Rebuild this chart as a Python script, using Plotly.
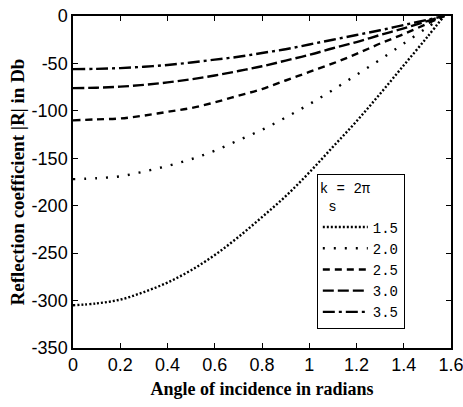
import plotly.graph_objects as go

angles = [0, 0.1, 0.2, 0.3, 0.4, 0.5, 0.6, 0.7, 0.8, 0.9, 1.0, 1.1, 1.2, 1.3, 1.4, 1.5, 1.5708]
s_labels = ["1.5", "2.0", "2.5", "3.0", "3.5"]
r_s15 = [-305, -303, -299, -291, -281, -268, -252, -233, -212, -190, -165, -138, -111, -82, -52, -22, 0]
r_s20 = [-172, -171, -169, -164, -158, -151, -142, -131, -120, -107, -93, -78, -62, -46, -29, -12, 0]
r_s25 = [-110, -109, -108, -105, -101, -97, -91, -84, -77, -68, -59, -50, -40, -29, -19, -8, 0]
r_s30 = [-76, -75.6, -74.5, -72.6, -70, -66.7, -62.7, -58, -53, -47, -41, -34, -27.5, -20, -13, -5.3, 0]
r_s35 = [-56, -55.7, -54.9, -53.5, -51.6, -49, -46, -43, -39, -35, -30, -25, -20, -15, -9.5, -4, 0]
x_ticks = [0, 0.2, 0.4, 0.6, 0.8, 1, 1.2, 1.4, 1.6]
y_ticks = [0, -50, -100, -150, -200, -250, -300, -350]

series = [r_s15, r_s20, r_s25, r_s30, r_s35]
dashes = ["2px,2px", "2px,9px", "7px,5px", "11px,4px", "12px,4px,3px,4px"]

fig = go.Figure()
for lab, ys, d in zip(s_labels, series, dashes):
    fig.add_trace(go.Scatter(x=angles, y=ys, mode="lines", name=lab,
                             line=dict(color="black", width=2.4, dash=d, shape="spline")))

tick_font = dict(family="Liberation Sans Narrow, Liberation Sans", size=18, color="black")
fig.update_layout(
    width=463, height=407,
    margin=dict(l=73, r=12, t=16, b=59),
    paper_bgcolor="white", plot_bgcolor="white",
    showlegend=True,
    legend=dict(x=0.645, y=0.524, xanchor="left", yanchor="top",
                bordercolor="black", borderwidth=1, bgcolor="white",
                font=dict(family="Liberation Mono", size=14, color="black"),
                title=dict(text="k = 2π<br> s", font=dict(family="Liberation Mono", size=14, color="black")),
                tracegroupgap=0, itemwidth=45),
    xaxis=dict(range=[0, 1.6], tickvals=x_ticks, ticktext=[str(v) for v in x_ticks],
               showgrid=False, zeroline=False, showline=True, linecolor="black", linewidth=1.5,
               mirror="ticks", ticks="inside", ticklen=5, tickcolor="black", automargin=False,
               ticklabeloverflow="allow",
               tickfont=tick_font,
               title=dict(text="<b>Angle of incidence in radians</b>",
                          font=dict(family="Liberation Serif", size=18, color="black"), standoff=8)),
    yaxis=dict(range=[-350, 0], tickvals=y_ticks, ticktext=[str(v) for v in y_ticks],
               showgrid=False, zeroline=False, showline=True, linecolor="black", linewidth=1.5,
               mirror="ticks", ticks="inside", ticklen=5, tickcolor="black", automargin=False,
               ticklabeloverflow="allow",
               tickfont=tick_font,
               title=dict(text="<b>Reflection coefficient |R| in Db</b>",
                          font=dict(family="Liberation Serif", size=19, color="black"), standoff=2)),
)

fig.write_html("out.html", config={"displayModeBar": False},
               post_script="document.body.style.margin='0px';")
